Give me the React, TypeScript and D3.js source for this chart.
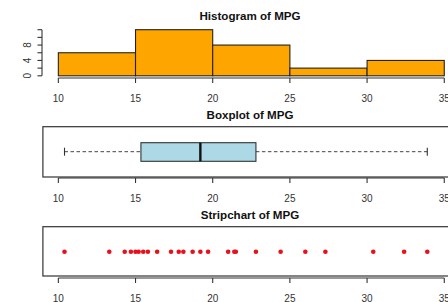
import React from "react";
import * as d3 from "d3";

const histBreaks = [10, 15, 20, 25, 30, 35];
const histCounts = [6, 12, 8, 2, 4];
const histYTicks = [0, 2, 4, 6, 8, 10, 12];
const histYLabels = [0, 4, 8];
const xTicks = [10, 15, 20, 25, 30, 35];
// five-number summary: min, Q1, median, Q3, max
const boxStats = [10.4, 15.35, 19.2, 22.8, 33.9];
const mpgValues = [
  10.4, 13.3, 14.3, 14.7, 15.0, 15.2, 15.5, 15.8, 16.4, 17.3, 17.8, 18.1,
  18.7, 19.2, 19.7, 21.0, 21.4, 21.5, 22.8, 24.4, 26.0, 27.3, 30.4, 32.4, 33.9,
];
const titles = ["Histogram of MPG", "Boxplot of MPG", "Stripchart of MPG"];

const W = 448;
const H = 302;
const FONT = "'Liberation Sans', Arial, sans-serif";
const AXIS_COL = "#333";

const x = d3.scaleLinear().domain([9, 36]).range([42.9, 459.7]);

function XAxis({ y }: { y: number }) {
  return (
    <g>
      <line x1={x(xTicks[0])} x2={x(xTicks[xTicks.length - 1])} y1={y} y2={y} stroke={AXIS_COL} strokeWidth={1.1} />
      {xTicks.map((t) => (
        <g key={t}>
          <line x1={x(t)} x2={x(t)} y1={y} y2={y + 5} stroke={AXIS_COL} strokeWidth={1.1} />
          <text x={x(t)} y={y + 23.5} textAnchor="middle" fontSize={10} fill={AXIS_COL}>
            {t}
          </text>
        </g>
      ))}
    </g>
  );
}

export default function App() {
  const yHist = d3.scaleLinear().domain([0, 12]).range([75.8, 29.7]);
  const bins = histCounts.map((c, i) => ({ x0: histBreaks[i], x1: histBreaks[i + 1], c }));

  const boxTop = 126.7;
  const boxBot = 177;
  const boxMid = 151.7;
  const stripTop = 226.7;
  const stripBot = 276;
  const stripMid = 251.7;

  const [mn, q1, med, q3, mx] = boxStats;

  return (
    <svg
      width={W}
      height={H}
      style={{ position: "absolute", left: 0, top: 0, background: "#fff" }}
      fontFamily={FONT}
    >
      <rect x={0} y={0} width={W} height={H} fill="#fff" />

      {/* Histogram */}
      <text x={250} y={20} textAnchor="middle" fontSize={11.6} fontWeight="bold" fill="#111">
        {titles[0]}
      </text>
      {bins.map((b, i) => (
        <rect
          key={i}
          x={x(b.x0)}
          y={yHist(b.c)}
          width={x(b.x1) - x(b.x0)}
          height={yHist(0) - yHist(b.c)}
          fill="#FFA500"
          stroke="#222"
          strokeWidth={1.1}
        />
      ))}
      <line x1={42} x2={42} y1={yHist(0)} y2={yHist(12)} stroke={AXIS_COL} strokeWidth={1.1} />
      {histYTicks.map((t) => (
        <line key={t} x1={37.5} x2={42} y1={yHist(t)} y2={yHist(t)} stroke={AXIS_COL} strokeWidth={1.1} />
      ))}
      {histYLabels.map((t) => (
        <text
          key={t}
          transform={`translate(30.5,${yHist(t)}) rotate(-90)`}
          textAnchor="middle"
          fontSize={10}
          fill={AXIS_COL}
        >
          {t}
        </text>
      ))}
      <XAxis y={78} />

      {/* Boxplot */}
      <text x={250} y={119} textAnchor="middle" fontSize={11.6} fontWeight="bold" fill="#111">
        {titles[1]}
      </text>
      <rect x={x(9)} y={boxTop} width={x(36) - x(9)} height={boxBot - boxTop} fill="none" stroke="#333" strokeWidth={1.2} />
      <line x1={x(mn)} x2={x(q1)} y1={boxMid} y2={boxMid} stroke="#444" strokeWidth={1} strokeDasharray="3.5,2.5" />
      <line x1={x(q3)} x2={x(mx)} y1={boxMid} y2={boxMid} stroke="#444" strokeWidth={1} strokeDasharray="3.5,2.5" />
      <line x1={x(mn)} x2={x(mn)} y1={boxMid - 4} y2={boxMid + 4} stroke="#333" strokeWidth={1.1} />
      <line x1={x(mx)} x2={x(mx)} y1={boxMid - 4} y2={boxMid + 4} stroke="#333" strokeWidth={1.1} />
      <rect x={x(q1)} y={142.7} width={x(q3) - x(q1)} height={161.3 - 142.7} fill="#ADD8E6" stroke="#333" strokeWidth={1.1} />
      <line x1={x(med)} x2={x(med)} y1={142.7} y2={161.3} stroke="#111" strokeWidth={2.4} />
      <XAxis y={178} />

      {/* Stripchart */}
      <text x={250} y={219} textAnchor="middle" fontSize={11.6} fontWeight="bold" fill="#111">
        {titles[2]}
      </text>
      <rect x={x(9)} y={stripTop} width={x(36) - x(9)} height={stripBot - stripTop} fill="none" stroke="#333" strokeWidth={1.2} />
      {mpgValues.map((v, i) => (
        <circle key={i} cx={x(v)} cy={stripMid} r={2.3} fill="#E8101C" />
      ))}
      <XAxis y={278} />
    </svg>
  );
}
